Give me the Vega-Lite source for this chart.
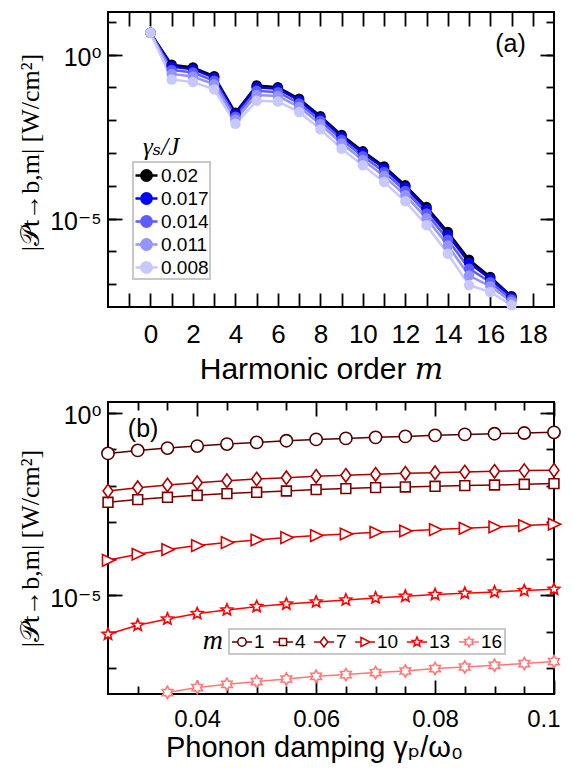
{
  "$schema": "https://vega.github.io/schema/vega-lite/v6.json",
  "padding": {"left": 16, "top": 10, "right": 5, "bottom": 5},
  "spacing": 15,
  "config": {
    "font": "Liberation Sans",
    "view": {"stroke": "black", "strokeWidth": 2},
    "axis": {"domain": false, "grid": false, "tickColor": "black", "tickWidth": 1.8, "labelFont": "Liberation Sans, DejaVu Sans", "labelFontSize": 25, "labelColor": "black", "titleColor": "black", "titleFontWeight": "normal", "labelFlush": false, "labelOverlap": false, "labelBound": false}
  },
  "resolve": {"scale": {"color": "independent", "shape": "independent", "x": "independent", "y": "independent"}},
  "datasets": {
    "a": [
      {"g": "0.02", "m": 0, "P": 4.62}, {"g": "0.02", "m": 1, "P": 0.489}, {"g": "0.02", "m": 2, "P": 0.407}, {"g": "0.02", "m": 3, "P": 0.221}, {"g": "0.02", "m": 4, "P": 0.0168}, {"g": "0.02", "m": 5, "P": 0.115}, {"g": "0.02", "m": 6, "P": 0.102}, {"g": "0.02", "m": 7, "P": 0.0449}, {"g": "0.02", "m": 8, "P": 0.0133}, {"g": "0.02", "m": 9, "P": 0.00352}, {"g": "0.02", "m": 10, "P": 0.00112}, {"g": "0.02", "m": 11, "P": 3.90e-4}, {"g": "0.02", "m": 12, "P": 1.03e-4}, {"g": "0.02", "m": 13, "P": 2.24e-5}, {"g": "0.02", "m": 14, "P": 3.87e-6}, {"g": "0.02", "m": 15, "P": 5.55e-7}, {"g": "0.02", "m": 16, "P": 1.64e-7}, {"g": "0.02", "m": 17, "P": 4.25e-8},
      {"g": "0.017", "m": 0, "P": 4.62}, {"g": "0.017", "m": 1, "P": 0.4325}, {"g": "0.017", "m": 2, "P": 0.360}, {"g": "0.017", "m": 3, "P": 0.198}, {"g": "0.017", "m": 4, "P": 0.01535}, {"g": "0.017", "m": 5, "P": 0.101}, {"g": "0.017", "m": 6, "P": 0.0906}, {"g": "0.017", "m": 7, "P": 0.0401}, {"g": "0.017", "m": 8, "P": 0.01191}, {"g": "0.017", "m": 9, "P": 0.003133}, {"g": "0.017", "m": 10, "P": 9.95e-4}, {"g": "0.017", "m": 11, "P": 3.42e-4}, {"g": "0.017", "m": 12, "P": 8.97e-5}, {"g": "0.017", "m": 13, "P": 1.923e-5}, {"g": "0.017", "m": 14, "P": 3.228e-6}, {"g": "0.017", "m": 15, "P": 4.467e-7}, {"g": "0.017", "m": 16, "P": 1.449e-7}, {"g": "0.017", "m": 17, "P": 3.936e-8},
      {"g": "0.014", "m": 0, "P": 4.62}, {"g": "0.014", "m": 1, "P": 0.341}, {"g": "0.014", "m": 2, "P": 0.284}, {"g": "0.014", "m": 3, "P": 0.160}, {"g": "0.014", "m": 4, "P": 0.01285}, {"g": "0.014", "m": 5, "P": 0.0787}, {"g": "0.014", "m": 6, "P": 0.0718}, {"g": "0.014", "m": 7, "P": 0.0324}, {"g": "0.014", "m": 8, "P": 0.009616}, {"g": "0.014", "m": 9, "P": 0.002512}, {"g": "0.014", "m": 10, "P": 7.943e-4}, {"g": "0.014", "m": 11, "P": 2.649e-4}, {"g": "0.014", "m": 12, "P": 6.934e-5}, {"g": "0.014", "m": 13, "P": 1.432e-5}, {"g": "0.014", "m": 14, "P": 2.27e-6}, {"g": "0.014", "m": 15, "P": 2.958e-7}, {"g": "0.014", "m": 16, "P": 1.138e-7}, {"g": "0.014", "m": 17, "P": 3.404e-8},
      {"g": "0.011", "m": 0, "P": 4.62}, {"g": "0.011", "m": 1, "P": 0.259}, {"g": "0.011", "m": 2, "P": 0.215}, {"g": "0.011", "m": 3, "P": 0.124}, {"g": "0.011", "m": 4, "P": 0.01042}, {"g": "0.011", "m": 5, "P": 0.0589}, {"g": "0.011", "m": 6, "P": 0.0548}, {"g": "0.011", "m": 7, "P": 0.0252}, {"g": "0.011", "m": 8, "P": 0.007482}, {"g": "0.011", "m": 9, "P": 0.001936}, {"g": "0.011", "m": 10, "P": 6.081e-4}, {"g": "0.011", "m": 11, "P": 1.968e-4}, {"g": "0.011", "m": 12, "P": 5.117e-5}, {"g": "0.011", "m": 13, "P": 1.012e-5}, {"g": "0.011", "m": 14, "P": 1.507e-6}, {"g": "0.011", "m": 15, "P": 1.82e-7}, {"g": "0.011", "m": 16, "P": 8.57e-8}, {"g": "0.011", "m": 17, "P": 2.871e-8},
      {"g": "0.008", "m": 0, "P": 4.62}, {"g": "0.008", "m": 1, "P": 0.1754}, {"g": "0.008", "m": 2, "P": 0.1452}, {"g": "0.008", "m": 3, "P": 0.0871}, {"g": "0.008", "m": 4, "P": 0.00778}, {"g": "0.008", "m": 5, "P": 0.039}, {"g": "0.008", "m": 6, "P": 0.0374}, {"g": "0.008", "m": 7, "P": 0.01766}, {"g": "0.008", "m": 8, "P": 0.005248}, {"g": "0.008", "m": 9, "P": 0.001343}, {"g": "0.008", "m": 10, "P": 4.188e-4}, {"g": "0.008", "m": 11, "P": 1.294e-4}, {"g": "0.008", "m": 12, "P": 3.342e-5}, {"g": "0.008", "m": 13, "P": 6.209e-6}, {"g": "0.008", "m": 14, "P": 8.433e-7}, {"g": "0.008", "m": 15, "P": 9.204e-8}, {"g": "0.008", "m": 16, "P": 5.741e-8}, {"g": "0.008", "m": 17, "P": 2.259e-8}
    ],
    "b": [
      {"m": "1", "gp": 0.025, "P": 0.078}, {"m": "1", "gp": 0.03, "P": 0.0944}, {"m": "1", "gp": 0.035, "P": 0.1091}, {"m": "1", "gp": 0.04, "P": 0.1239}, {"m": "1", "gp": 0.045, "P": 0.1406}, {"m": "1", "gp": 0.05, "P": 0.1563}, {"m": "1", "gp": 0.055, "P": 0.1738}, {"m": "1", "gp": 0.06, "P": 0.1892}, {"m": "1", "gp": 0.065, "P": 0.2014}, {"m": "1", "gp": 0.07, "P": 0.2148}, {"m": "1", "gp": 0.075, "P": 0.2286}, {"m": "1", "gp": 0.08, "P": 0.2438}, {"m": "1", "gp": 0.085, "P": 0.2594}, {"m": "1", "gp": 0.09, "P": 0.2704}, {"m": "1", "gp": 0.095, "P": 0.2825}, {"m": "1", "gp": 0.1, "P": 0.2951},
      {"m": "4", "gp": 0.025, "P": 0.003573}, {"m": "4", "gp": 0.03, "P": 0.004236}, {"m": "4", "gp": 0.035, "P": 0.004898}, {"m": "4", "gp": 0.04, "P": 0.005559}, {"m": "4", "gp": 0.045, "P": 0.006194}, {"m": "4", "gp": 0.05, "P": 0.006714}, {"m": "4", "gp": 0.055, "P": 0.007295}, {"m": "4", "gp": 0.06, "P": 0.007962}, {"m": "4", "gp": 0.065, "P": 0.008492}, {"m": "4", "gp": 0.07, "P": 0.009036}, {"m": "4", "gp": 0.075, "P": 0.009397}, {"m": "4", "gp": 0.08, "P": 0.009817}, {"m": "4", "gp": 0.085, "P": 0.01026}, {"m": "4", "gp": 0.09, "P": 0.01064}, {"m": "4", "gp": 0.095, "P": 0.01114}, {"m": "4", "gp": 0.1, "P": 0.01164},
      {"m": "7", "gp": 0.025, "P": 0.00729}, {"m": "7", "gp": 0.03, "P": 0.00899}, {"m": "7", "gp": 0.035, "P": 0.01064}, {"m": "7", "gp": 0.04, "P": 0.01233}, {"m": "7", "gp": 0.045, "P": 0.014}, {"m": "7", "gp": 0.05, "P": 0.01556}, {"m": "7", "gp": 0.055, "P": 0.0169}, {"m": "7", "gp": 0.06, "P": 0.01841}, {"m": "7", "gp": 0.065, "P": 0.01959}, {"m": "7", "gp": 0.07, "P": 0.02089}, {"m": "7", "gp": 0.075, "P": 0.02223}, {"m": "7", "gp": 0.08, "P": 0.02317}, {"m": "7", "gp": 0.085, "P": 0.02421}, {"m": "7", "gp": 0.09, "P": 0.02523}, {"m": "7", "gp": 0.095, "P": 0.02636}, {"m": "7", "gp": 0.1, "P": 0.02692},
      {"m": "10", "gp": 0.025, "P": 9.204e-5}, {"m": "10", "gp": 0.03, "P": 1.346e-4}, {"m": "10", "gp": 0.035, "P": 1.811e-4}, {"m": "10", "gp": 0.04, "P": 2.328e-4}, {"m": "10", "gp": 0.045, "P": 2.812e-4}, {"m": "10", "gp": 0.05, "P": 3.319e-4}, {"m": "10", "gp": 0.055, "P": 3.855e-4}, {"m": "10", "gp": 0.06, "P": 4.375e-4}, {"m": "10", "gp": 0.065, "P": 4.842e-4}, {"m": "10", "gp": 0.07, "P": 5.395e-4}, {"m": "10", "gp": 0.075, "P": 5.848e-4}, {"m": "10", "gp": 0.08, "P": 6.383e-4}, {"m": "10", "gp": 0.085, "P": 6.934e-4}, {"m": "10", "gp": 0.09, "P": 7.534e-4}, {"m": "10", "gp": 0.095, "P": 8.222e-4}, {"m": "10", "gp": 0.1, "P": 8.933e-4},
      {"m": "13", "gp": 0.025, "P": 8.65e-7}, {"m": "13", "gp": 0.03, "P": 1.528e-6}, {"m": "13", "gp": 0.035, "P": 2.27e-6}, {"m": "13", "gp": 0.04, "P": 3.192e-6}, {"m": "13", "gp": 0.045, "P": 4.009e-6}, {"m": "13", "gp": 0.05, "P": 4.966e-6}, {"m": "13", "gp": 0.055, "P": 5.848e-6}, {"m": "13", "gp": 0.06, "P": 6.637e-6}, {"m": "13", "gp": 0.065, "P": 7.534e-6}, {"m": "13", "gp": 0.07, "P": 8.551e-6}, {"m": "13", "gp": 0.075, "P": 9.506e-6}, {"m": "13", "gp": 0.08, "P": 1.059e-5}, {"m": "13", "gp": 0.085, "P": 1.148e-5}, {"m": "13", "gp": 0.09, "P": 1.247e-5}, {"m": "13", "gp": 0.095, "P": 1.361e-5}, {"m": "13", "gp": 0.1, "P": 1.479e-5},
      {"m": "16", "gp": 0.035, "P": 2.188e-8}, {"m": "16", "gp": 0.04, "P": 2.999e-8}, {"m": "16", "gp": 0.045, "P": 3.69e-8}, {"m": "16", "gp": 0.05, "P": 4.375e-8}, {"m": "16", "gp": 0.055, "P": 5.152e-8}, {"m": "16", "gp": 0.06, "P": 6.109e-8}, {"m": "16", "gp": 0.065, "P": 6.792e-8}, {"m": "16", "gp": 0.07, "P": 7.709e-8}, {"m": "16", "gp": 0.075, "P": 8.531e-8}, {"m": "16", "gp": 0.08, "P": 9.931e-8}, {"m": "16", "gp": 0.085, "P": 1.099e-7}, {"m": "16", "gp": 0.09, "P": 1.225e-7}, {"m": "16", "gp": 0.095, "P": 1.361e-7}, {"m": "16", "gp": 0.1, "P": 1.545e-7}
    ]
  },
  "vconcat": [
    {
      "width": 446,
      "height": 295,
      "resolve": {"axis": {"x": "independent", "y": "independent"}},
      "layer": [
        {
          "data": {"name": "a"},
          "mark": {"type": "line", "strokeWidth": 2.5},
          "encoding": {
            "x": {"field": "m", "type": "quantitative", "scale": {"domain": [-2, 19], "nice": false, "zero": false},
              "axis": {"orient": "bottom", "values": [-1,0,1,2,3,4,5,6,7,8,9,10,11,12,13,14,15,16,17,18], "labelExpr": "datum.value >= 0 && datum.value % 2 == 0 ? datum.label : ''", "tickSize": -14, "labelPadding": 28, "labelFontSize": 26, "title": "Harmonic order 𝑚", "titleFont": "Liberation Sans, DejaVu Serif", "titleFontSize": 30, "titlePadding": 7, "titleX": 213}},
            "y": {"field": "P", "type": "quantitative", "scale": {"type": "log", "domain": [2e-8, 20], "nice": false},
              "axis": {"orient": "left", "values": [1, 0.00001], "labelExpr": "datum.value > 0.1 ? '10⁰' : '10⁻⁵'", "tickSize": -14, "labelPadding": 21, "labelOffset": 3, "title": "|𝒫t→b,m| [W/cm²]", "titleFont": "Liberation Serif, DejaVu Serif", "titleFontSize": 26, "titlePadding": 6, "titleY": 140}},
            "color": {"field": "g", "type": "nominal", "scale": {"domain": ["0.02", "0.017", "0.014", "0.011", "0.008"], "range": ["#000000", "#0000ff", "#5c5cff", "#9494ff", "#c8c8ff"]},
              "legend": {"title": null, "orient": "none", "legendX": 25, "legendY": 150, "symbolSize": 484, "symbolStrokeWidth": 2.5, "labelFont": "Liberation Sans", "labelFontSize": 19, "labelColor": "black", "labelOffset": 2, "rowPadding": 0, "padding": 1, "strokeColor": "#c8c8c8", "fillColor": "white",
                "encode": {
                  "legend": {"update": {"strokeWidth": {"value": 2}}},
                  "symbols": {"update": {
                    "shape": {"value": "M-1,0L1,0M-0.47,0A0.47,0.47 0 1,1 0.47,0A0.47,0.47 0 1,1 -0.47,0Z"},
                    "strokeWidth": {"value": 2.5},
                    "opacity": {"value": 1}
                  }}
                }}}
          }
        },
        {
          "data": {"name": "a"},
          "mark": {"type": "point", "filled": true, "size": 110, "opacity": 1},
          "encoding": {
            "x": {"field": "m", "type": "quantitative", "scale": {"domain": [-2, 19], "nice": false, "zero": false},
              "axis": {"orient": "top", "values": [-1,0,1,2,3,4,5,6,7,8,9,10,11,12,13,14,15,16,17,18], "labels": false, "tickSize": -14, "title": null}},
            "y": {"field": "P", "type": "quantitative", "scale": {"type": "log", "domain": [2e-8, 20], "nice": false},
              "axis": {"orient": "right", "values": [1, 0.00001], "labels": false, "tickSize": -14, "title": null}},
            "color": {"field": "g", "type": "nominal", "scale": {"domain": ["0.02", "0.017", "0.014", "0.011", "0.008"], "range": ["#000000", "#0000ff", "#5c5cff", "#9494ff", "#c8c8ff"]},
              "legend": {"title": null, "orient": "none", "legendX": 25, "legendY": 150, "symbolSize": 484, "symbolStrokeWidth": 2.5, "labelFont": "Liberation Sans", "labelFontSize": 19, "labelColor": "black", "labelOffset": 2, "rowPadding": 0, "padding": 1, "strokeColor": "#c8c8c8", "fillColor": "white",
                "encode": {
                  "legend": {"update": {"strokeWidth": {"value": 2}}},
                  "symbols": {"update": {
                    "shape": {"value": "M-1,0L1,0M-0.47,0A0.47,0.47 0 1,1 0.47,0A0.47,0.47 0 1,1 -0.47,0Z"},
                    "strokeWidth": {"value": 2.5},
                    "opacity": {"value": 1}
                  }}
                }}}
          }
        },
        {
          "data": {"values": [{"m": 16.95, "P": 2.09, "t": "(a)"}]},
          "mark": {"type": "text", "font": "Liberation Sans", "fontSize": 25, "align": "center", "baseline": "middle", "color": "black"},
          "encoding": {
            "x": {"field": "m", "type": "quantitative", "scale": {"domain": [-2, 19], "nice": false, "zero": false}, "axis": null},
            "y": {"field": "P", "type": "quantitative", "scale": {"type": "log", "domain": [2e-8, 20], "nice": false},
              "axis": {"orient": "left", "values": [10, 1, 0.1, 0.01, 0.001, 0.0001, 0.00001, 0.000001, 0.0000001], "labels": false, "tickSize": -8, "title": null}},
            "text": {"field": "t"}
          }
        },
        {
          "data": {"values": [{"m": 0.5, "P": 0.00151, "t": "γₛ/J"}]},
          "mark": {"type": "text", "font": "Liberation Serif, DejaVu Serif", "fontStyle": "italic", "fontSize": 25, "align": "center", "baseline": "middle", "color": "black"},
          "encoding": {
            "x": {"field": "m", "type": "quantitative", "scale": {"domain": [-2, 19], "nice": false, "zero": false}, "axis": null},
            "y": {"field": "P", "type": "quantitative", "scale": {"type": "log", "domain": [2e-8, 20], "nice": false},
              "axis": {"orient": "right", "values": [10, 1, 0.1, 0.01, 0.001, 0.0001, 0.00001, 0.000001, 0.0000001], "labels": false, "tickSize": -8, "title": null}},
            "text": {"field": "t"}
          }
        }
      ]
    },
    {
      "width": 446,
      "height": 292,
      "resolve": {"axis": {"x": "independent", "y": "independent"}},
      "layer": [
        {
          "data": {"name": "b"},
          "mark": {"type": "line", "strokeWidth": 1.5},
          "encoding": {
            "x": {"field": "gp", "type": "quantitative", "scale": {"domain": [0.025, 0.1], "nice": false, "zero": false},
              "axis": {"orient": "bottom", "values": [0.04, 0.06, 0.08, 0.1], "labelExpr": "datum.value > 0.099 ? '0.1' : format(datum.value, '.2f')", "tickSize": -14, "labelPadding": 27, "labelFontSize": 24, "labelFlush": true, "labelFlushOffset": 6, "title": "Phonon damping γₚ/ω₀", "titleFont": "Liberation Sans, DejaVu Sans", "titleFontSize": 29, "titlePadding": 2, "titleX": 206}},
            "y": {"field": "P", "type": "quantitative", "scale": {"type": "log", "domain": [2e-8, 2], "nice": false},
              "axis": {"orient": "left", "values": [1, 0.00001], "labelExpr": "datum.value > 0.1 ? '10⁰' : '10⁻⁵'", "tickSize": -14, "labelPadding": 21, "labelOffset": 3, "title": "|𝒫t→b,m| [W/cm²]", "titleFont": "Liberation Serif, DejaVu Serif", "titleFontSize": 26, "titlePadding": 6}},
            "color": {"field": "m", "type": "nominal", "scale": {"domain": ["1", "4", "7", "10", "13", "16"], "range": ["#550000", "#7a0000", "#aa0000", "#dd0000", "#ff0000", "#ff7777"]},
              "legend": {"title": null, "orient": "none", "legendX": 121, "legendY": 227, "direction": "horizontal", "columns": 6, "symbolSize": 400, "symbolStrokeWidth": 1.5, "labelFont": "Liberation Sans", "labelFontSize": 19, "labelColor": "black", "labelOffset": 1, "columnPadding": 5, "padding": 2, "strokeColor": "#c8c8c8", "fillColor": "white",
                "encode": {
                  "legend": {"update": {"strokeWidth": {"value": 2}}},
                  "symbols": {"update": {
                    "shape": {"signal": "datum.value=='1'?'M-1,0L-0.42,0M0.42,0L1,0M-0.42,0A0.42,0.42 0 1,1 0.42,0A0.42,0.42 0 1,1 -0.42,0Z':datum.value=='4'?'M-1,0L-0.36,0M0.36,0L1,0M-0.36,-0.36L0.36,-0.36L0.36,0.36L-0.36,0.36Z':datum.value=='7'?'M-1,0L-0.38,0M0.38,0L1,0M-0.38,0L0,-0.5L0.38,0L0,0.5Z':datum.value=='10'?'M-1,0L-0.4,0M0.5,0L1,0M-0.4,-0.45L0.5,0L-0.4,0.45Z':datum.value=='13'?'M-1,0L-0.3,0M0.3,0L1,0M0,-0.5L0.133,-0.182L0.476,-0.155L0.214,0.07L0.294,0.405L0,0.225L-0.294,0.405L-0.214,0.07L-0.476,-0.155L-0.133,-0.182Z':'M-1,0L-0.289,0M0.289,0L1,0M0,-0.5L0.144,-0.25L0.433,-0.25L0.289,0L0.433,0.25L0.144,0.25L0,0.5L-0.144,0.25L-0.433,0.25L-0.289,0L-0.433,-0.25L-0.144,-0.25Z'"},
                    "fill": {"value": "white"},
                    "strokeWidth": {"value": 1.5},
                    "opacity": {"value": 1}
                  }}
                }}}
          }
        },
        {
          "data": {"name": "b"},
          "mark": {"type": "point", "filled": false, "fill": "white", "fillOpacity": 1, "strokeWidth": 1.6, "size": 150, "opacity": 1},
          "encoding": {
            "x": {"field": "gp", "type": "quantitative", "scale": {"domain": [0.025, 0.1], "nice": false, "zero": false},
              "axis": {"orient": "top", "values": [0.04, 0.06, 0.08, 0.1], "labels": false, "tickSize": -14, "title": null}},
            "y": {"field": "P", "type": "quantitative", "scale": {"type": "log", "domain": [2e-8, 2], "nice": false},
              "axis": {"orient": "right", "values": [1, 0.00001], "labels": false, "tickSize": -14, "title": null}},
            "color": {"field": "m", "type": "nominal", "scale": {"domain": ["1", "4", "7", "10", "13", "16"], "range": ["#550000", "#7a0000", "#aa0000", "#dd0000", "#ff0000", "#ff7777"]},
              "legend": {"title": null, "orient": "none", "legendX": 121, "legendY": 227, "direction": "horizontal", "columns": 6, "symbolSize": 400, "symbolStrokeWidth": 1.5, "labelFont": "Liberation Sans", "labelFontSize": 19, "labelColor": "black", "labelOffset": 1, "columnPadding": 5, "padding": 2, "strokeColor": "#c8c8c8", "fillColor": "white",
                "encode": {
                  "legend": {"update": {"strokeWidth": {"value": 2}}},
                  "symbols": {"update": {
                    "shape": {"signal": "datum.value=='1'?'M-1,0L-0.42,0M0.42,0L1,0M-0.42,0A0.42,0.42 0 1,1 0.42,0A0.42,0.42 0 1,1 -0.42,0Z':datum.value=='4'?'M-1,0L-0.36,0M0.36,0L1,0M-0.36,-0.36L0.36,-0.36L0.36,0.36L-0.36,0.36Z':datum.value=='7'?'M-1,0L-0.38,0M0.38,0L1,0M-0.38,0L0,-0.5L0.38,0L0,0.5Z':datum.value=='10'?'M-1,0L-0.4,0M0.5,0L1,0M-0.4,-0.45L0.5,0L-0.4,0.45Z':datum.value=='13'?'M-1,0L-0.3,0M0.3,0L1,0M0,-0.5L0.133,-0.182L0.476,-0.155L0.214,0.07L0.294,0.405L0,0.225L-0.294,0.405L-0.214,0.07L-0.476,-0.155L-0.133,-0.182Z':'M-1,0L-0.289,0M0.289,0L1,0M0,-0.5L0.144,-0.25L0.433,-0.25L0.289,0L0.433,0.25L0.144,0.25L0,0.5L-0.144,0.25L-0.433,0.25L-0.289,0L-0.433,-0.25L-0.144,-0.25Z'"},
                    "fill": {"value": "white"},
                    "strokeWidth": {"value": 1.5},
                    "opacity": {"value": 1}
                  }}
                }}},
            "shape": {"field": "m", "type": "nominal", "scale": {"domain": ["16", "13", "10", "7", "4", "1"], "range": ["M0,-1L0.289,-0.5L0.866,-0.5L0.577,0L0.866,0.5L0.289,0.5L0,1L-0.289,0.5L-0.866,0.5L-0.577,0L-0.866,-0.5L-0.289,-0.5Z", "M0,-1L0.265,-0.364L0.951,-0.309L0.428,0.139L0.588,0.809L0,0.45L-0.588,0.809L-0.428,0.139L-0.951,-0.309L-0.265,-0.364Z", "M-0.9,-0.95L1.1,0L-0.9,0.95Z", "M0,-1.1L0.8,0L0,1.1L-0.8,0Z", "M-0.8,-0.8L0.8,-0.8L0.8,0.8L-0.8,0.8Z", "circle"]},
              "legend": null}
          }
        },
        {
          "data": {"values": [{"gp": 0.0309, "P": 0.357, "t": "(b)"}]},
          "mark": {"type": "text", "font": "Liberation Sans", "fontSize": 25, "align": "center", "baseline": "middle", "color": "black"},
          "encoding": {
            "x": {"field": "gp", "type": "quantitative", "scale": {"domain": [0.025, 0.1], "nice": false, "zero": false},
              "axis": {"orient": "bottom", "values": [0.03, 0.035, 0.045, 0.05, 0.055, 0.065, 0.07, 0.075, 0.085, 0.09, 0.095], "labels": false, "tickSize": -8, "title": null}},
            "y": {"field": "P", "type": "quantitative", "scale": {"type": "log", "domain": [2e-8, 2], "nice": false},
              "axis": {"orient": "left", "values": [1, 0.1, 0.01, 0.001, 0.0001, 0.00001, 0.000001, 0.0000001], "labels": false, "tickSize": -8, "title": null}},
            "text": {"field": "t"}
          }
        },
        {
          "data": {"values": [{"gp": 0.04265, "P": 5.56e-7, "t": "m"}]},
          "mark": {"type": "text", "font": "Liberation Serif, DejaVu Serif", "fontStyle": "italic", "fontSize": 28, "align": "center", "baseline": "middle", "color": "black"},
          "encoding": {
            "x": {"field": "gp", "type": "quantitative", "scale": {"domain": [0.025, 0.1], "nice": false, "zero": false},
              "axis": {"orient": "top", "values": [0.03, 0.035, 0.045, 0.05, 0.055, 0.065, 0.07, 0.075, 0.085, 0.09, 0.095], "labels": false, "tickSize": -8, "title": null}},
            "y": {"field": "P", "type": "quantitative", "scale": {"type": "log", "domain": [2e-8, 2], "nice": false},
              "axis": {"orient": "right", "values": [1, 0.1, 0.01, 0.001, 0.0001, 0.00001, 0.000001, 0.0000001], "labels": false, "tickSize": -8, "title": null}},
            "text": {"field": "t"}
          }
        }
      ]
    }
  ]
}
